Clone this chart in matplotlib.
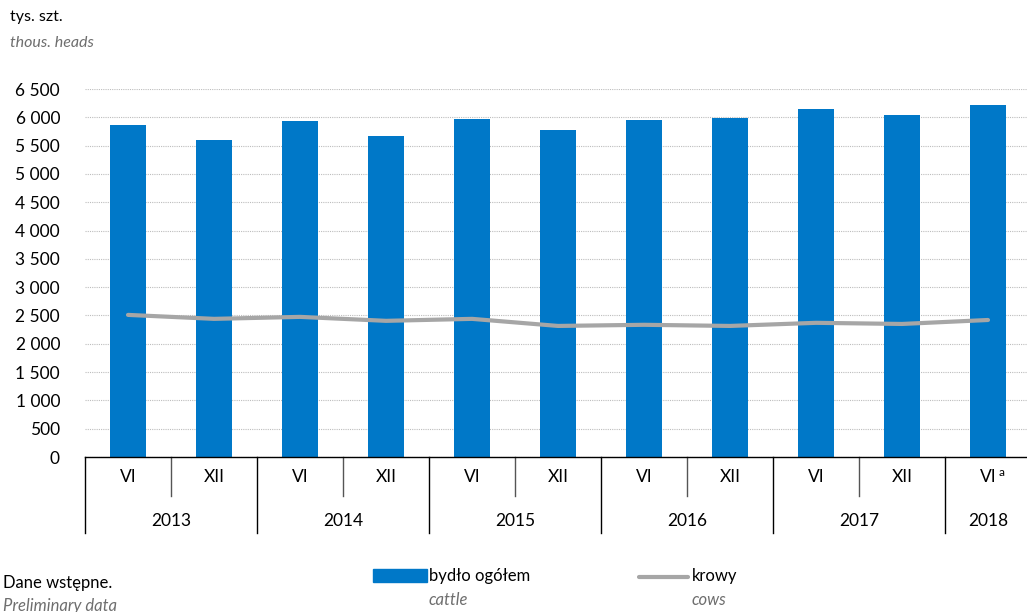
import matplotlib.pyplot as plt
from matplotlib.patches import Rectangle
from matplotlib.lines import Line2D
from matplotlib.transforms import blended_transform_factory

plt.rcParams['font.family'] = ['Lato', 'DejaVu Sans']

# Dane
okresy = ["VI", "XII", "VI", "XII", "VI", "XII", "VI", "XII", "VI", "XII", "VI"]
lata = ["2013", "2014", "2015", "2016", "2017", "2018"]
bydlo = [5870, 5600, 5935, 5670, 5975, 5775, 5955, 5990, 6150, 6045, 6220]
krowy = [2510, 2440, 2475, 2405, 2440, 2315, 2335, 2315, 2370, 2350, 2420]

niebieski = "#0078C8"
szary = "#A6A6A6"

fig = plt.figure(figsize=(10.27, 6.12), dpi=100)
ax = fig.add_axes([85/1027, 1 - 457/612, 946/1027, 368/612])

x = list(range(len(okresy)))
ax.bar(x, bydlo, width=0.43, color=niebieski, zorder=2)
ax.plot(x, krowy, color=szary, lw=3, solid_capstyle="round", zorder=3)

ax.set_xlim(-0.5, len(okresy) - 0.5)
ax.set_ylim(0, 6500)
yt = list(range(0, 6501, 500))
ax.set_yticks(yt)
ax.set_yticklabels([f"{v:,}".replace(",", " ") for v in yt], fontsize=12.5)
ax.tick_params(axis="y", length=0, pad=18)
ax.grid(axis="y", color="#BDBDBD", linestyle=(0, (1, 1)), lw=0.8, zorder=0)

ax.set_xticks(x)
ax.set_xticklabels(okresy, fontsize=12.5)
ax.tick_params(axis="x", length=0, pad=9)

for s in ["top", "right", "left"]:
    ax.spines[s].set_visible(False)
ax.spines["bottom"].set_color("black")
ax.spines["bottom"].set_linewidth(1)

# separatory i lata
tr = blended_transform_factory(ax.transData, ax.transAxes)
for i in range(len(okresy)):
    pos = i - 0.5
    if i % 2 == 0:
        ax.plot([pos, pos], [0, -76/368], transform=tr, color="black", lw=1, clip_on=False)
    else:
        ax.plot([pos, pos], [0, -39/368], transform=tr, color="#555555", lw=1, clip_on=False)
for j, rok in enumerate(lata):
    cx = 2*j + 0.5 if j < len(lata) - 1 else 2*j
    ax.text(cx, -64/368, rok, transform=tr, ha="center", va="center", fontsize=12.5)
ax.annotate("a", xy=(10, -20/368), xycoords=tr, xytext=(10, 3), textcoords="offset points",
            ha="center", va="center", fontsize=8.5)

# opis osi
fig.text(10/1027, 1 - 17/612, "tys. szt.", fontsize=11.5, va="center")
fig.text(10/1027, 1 - 43/612, "thous. heads", fontsize=11.5, va="center", style="italic", color="#6E6E6E")

# legenda
fig.patches.append(Rectangle((373/1027, 1 - 582/612), 54/1027, 13/612, transform=fig.transFigure,
                             color=niebieski, figure=fig))
fig.lines.append(Line2D([639/1027, 688/1027], [1 - 577/612, 1 - 577/612], transform=fig.transFigure,
                        color=szary, lw=3, solid_capstyle="round", figure=fig))
fig.text(429/1027, 1 - 576/612, "bydło ogółem", fontsize=12, va="center")
fig.text(429/1027, 1 - 600/612, "cattle", fontsize=12, va="center", style="italic", color="#6E6E6E")
fig.text(692/1027, 1 - 576/612, "krowy", fontsize=12, va="center")
fig.text(692/1027, 1 - 600/612, "cows", fontsize=12, va="center", style="italic", color="#6E6E6E")

fig.text(3/1027, 1 - 583/612, "Dane wstępne.", fontsize=12, va="center")
fig.text(3/1027, 1 - 606/612, "Preliminary data", fontsize=12, va="center", style="italic", color="#6E6E6E")

fig.savefig("out.png", dpi=100)
